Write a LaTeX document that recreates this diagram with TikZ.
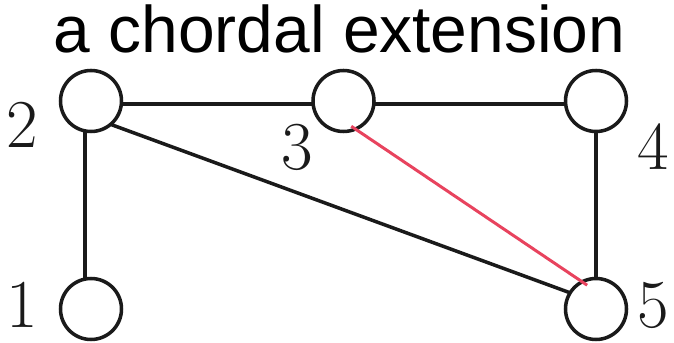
\documentclass[tikz,border=0pt]{standalone}
\usepackage{fontspec}
\newfontfamily\titlefont{Liberation Sans}
\usetikzlibrary{positioning}
\definecolor{Ink}{HTML}{1A1A1A}
\definecolor{Chord}{HTML}{E8435E}
\tikzset{
  vertex/.style={circle,draw=Ink,fill=white,line width=2pt,minimum size=1.22cm,inner sep=0pt,outer sep=0pt},
  edge/.style={draw=Ink,line width=2pt},
  chordedge/.style={draw=Chord,line width=1.7pt},
  numlabel/.style={font=\fontsize{39}{39}\selectfont,text=Ink,inner sep=0pt},
  titletext/.style={font=\titlefont\fontsize{37.5}{37.5}\selectfont,text=black,inner sep=0pt}
}

\begin{document}
\begin{tikzpicture}[node distance=2.94cm and 3.83cm]
  \useasboundingbox (0,0) rectangle (13.48,6.84);
  \node[titletext] (title) at (6.79,6.27) {a chordal extension};
  \node[vertex] (n2) at (1.82,4.82) {};
  \node[vertex,right=of n2] (n3) {};
  \node[vertex,right=of n3] (n4) {};
  \node[vertex,below=of n2] (n1) {};
  \node[vertex,below=of n4] (n5) {};
  \node[numlabel] (l2) at (0.44,4.34) {2};
  \node[numlabel] (l3) at (5.94,3.90) {3};
  \node[numlabel] (l4) at (13.06,3.90) {4};
  \node[numlabel] (l1) at (0.44,0.74) {1};
  \node[numlabel] (l5) at (13.06,0.74) {5};
  % graph edges
  \draw[edge] (n2.-6) -- (n3.186);
  \draw[edge] (n3.-6) -- (n4.186);
  \draw[edge] (n2.-101) -- (n1.101);
  \draw[edge] (n4) -- (n5);
  \draw[edge] (n2.-50) -- (n5.148);
  % added chord
  \draw[chordedge,shorten <=-0.1cm,shorten >=-0.12cm] (n3.-67) -- (n5.117);
\end{tikzpicture}
\end{document}
